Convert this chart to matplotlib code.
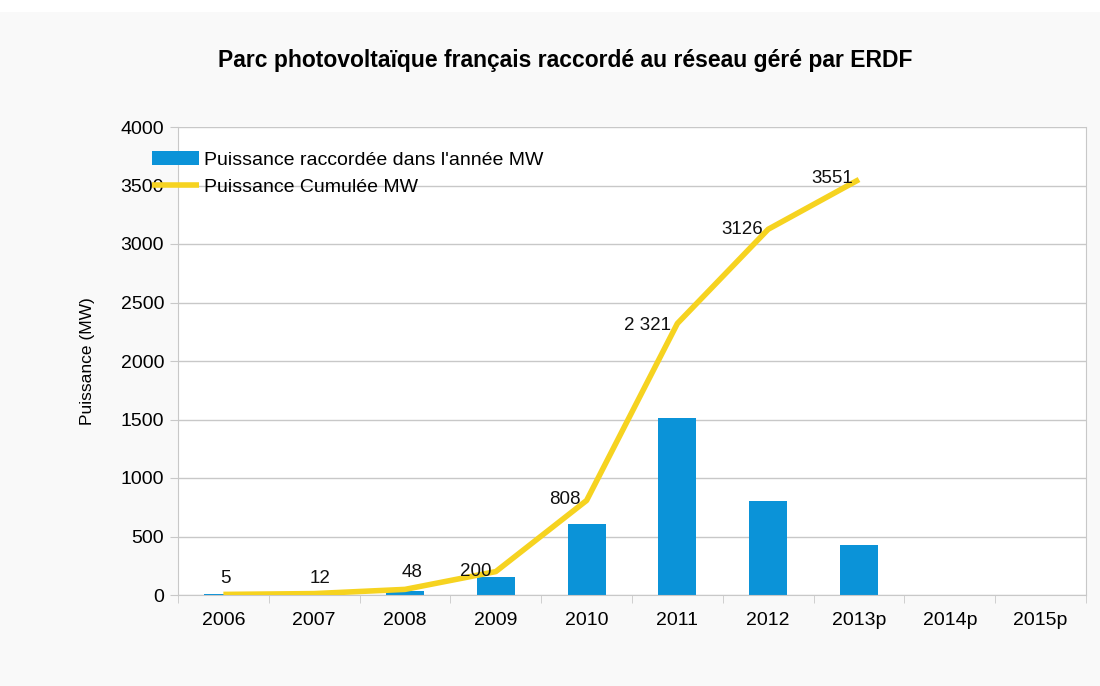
import numpy as np
import matplotlib.pyplot as plt
from matplotlib.patches import Rectangle

plt.rcParams['font.family'] = ['Liberation Sans', 'DejaVu Sans']

# Data

years = ["2006", "2007", "2008", "2009", "2010", "2011", "2012", "2013p", "2014p", "2015p"]
annual = [5, 7, 36, 152, 608, 1513, 805, 425]
cumulative = [5, 12, 48, 200, 808, 2321, 3126, 3551]
cum_labels = ["5", "12", "48", "200", "808", "2 321", "3126", "3551"]

# label placement (pixels offset, alignment)
label_pos = [(2, 7, 'center', 'bottom'),
             (6, 7, 'center', 'bottom'),
             (7, 8, 'center', 'bottom'),
             (-4, 0, 'right', 'center'),
             (-6, 1, 'right', 'center'),
             (-6, -2, 'right', 'center'),
             (-5, 0, 'right', 'center'),
             (-6, 1, 'right', 'center')]

blue = '#0b93d8'
yellow = '#f6d320'
grid = '#c8c8c8'

fig = plt.figure(figsize=(11, 6.86), dpi=100)
fig.patch.set_facecolor('#f9f9f9')
fig.patches.append(Rectangle((0, 1 - 12 / 686), 1, 12 / 686, transform=fig.transFigure,
                             facecolor='white', edgecolor='none', zorder=0))

ax = fig.add_axes([178 / 1100, 1 - 595 / 686, 908 / 1100, 468 / 686])
ax.set_facecolor('white')

x = np.arange(len(years))
n = len(annual)
bars = ax.bar(x[:n], annual, width=0.42, color=blue, zorder=2)
line, = ax.plot(x[:n], cumulative, color=yellow, lw=4, solid_capstyle='butt', zorder=3)

for i, (v, t) in enumerate(zip(cumulative, cum_labels)):
    dx, dy, ha, va = label_pos[i]
    ax.annotate(t, (x[i], v), xytext=(dx, dy), textcoords='offset pixels',
                ha=ha, va=va, fontsize=13.5, color='#111111', zorder=4)

ax.set_xlim(-0.5, len(years) - 0.5)
ax.set_ylim(0, 4000)
ax.set_yticks(np.arange(0, 4001, 500))
ax.yaxis.grid(True, color=grid, lw=1)
ax.set_axisbelow(True)

ax.set_xticks(x)
ax.set_xticklabels(years)
ax.set_xticks(np.arange(-0.5, len(years), 1), minor=True)
ax.tick_params(axis='x', which='major', length=0, pad=12, labelsize=14)
ax.tick_params(axis='x', which='minor', length=6, color=grid)
ax.tick_params(axis='y', length=6, color=grid, labelsize=14, pad=4)

for s in ['left', 'right', 'bottom']:
    ax.spines[s].set_color(grid)
ax.spines['top'].set_visible(False)

ax.set_ylabel("Puissance (MW)", fontsize=12.5, labelpad=18)

fig.text(565 / 1100, 1 - 60 / 686, "Parc photovoltaïque français raccordé au réseau géré par ERDF",
         ha='center', va='center', fontsize=16.5, fontweight='bold')

ax.legend([bars, line], ["Puissance raccordée dans l'année MW", "Puissance Cumulée MW"],
          loc='upper left', bbox_to_anchor=(152 / 1100, 1 - 151 / 686),
          bbox_transform=fig.transFigure, frameon=False, fontsize=14,
          borderaxespad=0, borderpad=0, handlelength=2.4, handletextpad=0.3,
          labelspacing=0.5)

fig.savefig("out.png", dpi=100, facecolor=fig.get_facecolor())
